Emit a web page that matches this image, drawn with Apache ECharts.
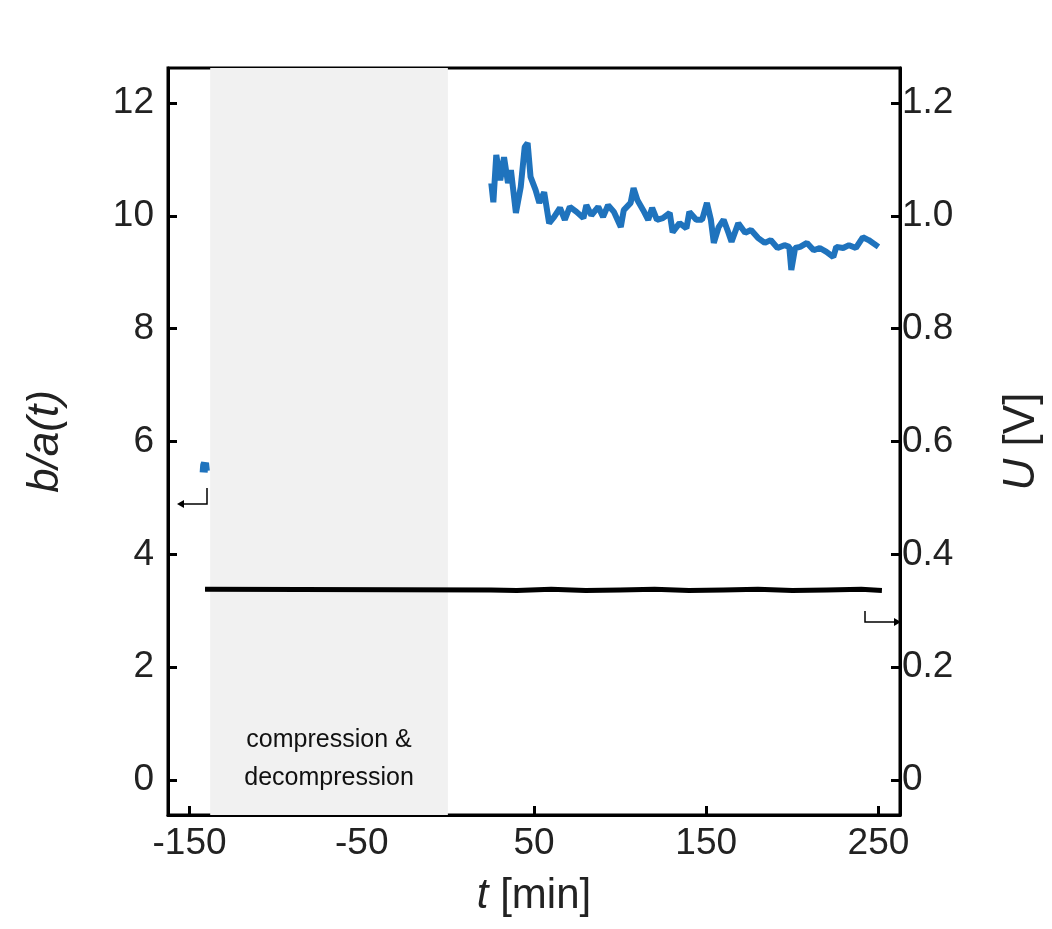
<!DOCTYPE html>
<html><head><meta charset="utf-8">
<script src="https://cdn.jsdelivr.net/npm/echarts@6/dist/echarts.min.js"></script>
<style>html,body{margin:0;background:#fff}#c{width:1052px;height:929px}</style>
</head><body><div id="c"></div>
<script>
// b/a(t) readings, left axis
const ratioEarly = [[-141.8, 5.45], [-141.5, 5.58], [-141, 5.62], [-140.2, 5.6], [-140.5, 5.48]];
const ratioLate = [[25.2,10.58],[26.4,10.24],[28.1,11.08],[30.4,10.63],[32.6,11.04],[34.9,10.58],[36.6,10.81],[39.5,10.05],[42.3,10.51],[44.6,11.22],[46.3,11.29],[48.0,10.69],[50.9,10.46],[53.1,10.23],[55.9,10.42],[58.8,9.87],[61.7,9.98],[65.1,10.14],[67.9,9.93],[70.8,10.16],[74.7,10.07],[78.7,9.96],[80.4,10.19],[83.3,10.01],[87.3,10.16],[90.1,9.98],[93.0,10.19],[96.4,10.07],[100.4,9.80],[102.1,10.10],[106.1,10.23],[107.8,10.49],[110.0,10.28],[113.4,10.10],[116.3,9.93],[118.6,10.14],[121.4,9.93],[124.8,9.96],[128.8,10.05],[130.5,9.71],[134.5,9.87],[138.5,9.78],[140.2,10.07],[144.2,9.93],[147.6,9.93],[150.4,10.23],[152.7,9.93],[154.4,9.52],[157.2,9.80],[160.1,9.93],[162.9,9.70],[164.7,9.54],[168.6,9.87],[172.6,9.70],[176.0,9.75],[180.0,9.61],[184.0,9.52],[187.4,9.57],[191.4,9.43],[195.4,9.48],[198.2,9.45],[199.4,9.04],[201.6,9.43],[204.5,9.45],[208.5,9.52],[212.4,9.39],[215.9,9.43],[219.8,9.36],[223.8,9.27],[225.5,9.45],[229.5,9.43],[232.9,9.48],[236.9,9.43],[240.9,9.62],[244.3,9.57],[250,9.45]];
// U readings, right axis
const voltage = [[-141,0.338],[25,0.337],[40,0.336],[60,0.338],[80,0.336],[100,0.337],[120,0.338],[140,0.336],[160,0.337],[180,0.338],[200,0.336],[220,0.337],[240,0.338],[252,0.336]];
const xTicks = [-150, -50, 50, 150, 250];
const leftTicks = [0, 2, 4, 6, 8, 10, 12];
const rightTicks = [0, 0.2, 0.4, 0.6, 0.8, 1.0, 1.2];
const shade = [-138, 0];

const font = 'Liberation Sans, Arial, sans-serif';
const txt = '#222';
const chart = echarts.init(document.getElementById('c'));
chart.setOption({
  animation: false,
  grid: {left: 168, right: 137, top: 68, bottom: 114, show: true, borderColor: '#000', borderWidth: 3},
  xAxis: {
    type: 'value', min: -162.5, max: 262.5,
    axisLine: {onZero: false, lineStyle: {color: '#000', width: 3}},
    axisTick: {inside: true, length: 9, lineStyle: {width: 3}, customValues: xTicks},
    axisLabel: {customValues: xTicks, color: txt, fontSize: 37, fontFamily: font, margin: 10},
    splitLine: {show: false},
    name: '{i|t} [min]', nameLocation: 'middle', nameGap: 60,
    nameTextStyle: {fontSize: 42, fontFamily: font, color: txt,
      rich: {i: {fontSize: 42, fontStyle: 'italic', fontFamily: font, color: txt}}}
  },
  yAxis: [{
    type: 'value', min: -0.62, max: 12.62,
    axisLine: {show: true, onZero: false, lineStyle: {color: '#000', width: 3}},
    axisTick: {inside: true, length: 9, lineStyle: {width: 3}, customValues: leftTicks},
    axisLabel: {customValues: leftTicks, color: txt, fontSize: 37, fontFamily: font, margin: 14},
    splitLine: {show: false},
    name: 'b/a(t)', nameLocation: 'middle', nameGap: 100,
    nameTextStyle: {fontSize: 44, fontStyle: 'italic', fontFamily: font, color: txt}
  }, {
    type: 'value', min: -0.062, max: 1.262, position: 'right',
    axisLine: {show: true, onZero: false, lineStyle: {color: '#000', width: 3}},
    axisTick: {inside: true, length: 9, lineStyle: {width: 3}, customValues: rightTicks},
    axisLabel: {customValues: rightTicks, color: txt, fontSize: 37, fontFamily: font, margin: 2,
      formatter: v => v === 0 ? '0' : v.toFixed(1)},
    splitLine: {show: false},
    name: '{i|U} [V]', nameLocation: 'middle', nameGap: 100, nameRotate: 90,
    nameTextStyle: {fontSize: 44, fontFamily: font, color: txt,
      rich: {i: {fontSize: 44, fontStyle: 'italic', fontFamily: font, color: txt}}}
  }],
  series: [{
    type: 'line', data: [], z: 0,
    markArea: {silent: true, itemStyle: {color: '#f1f1f1', borderWidth: 0},
      label: {show: true, position: 'insideBottom', distance: 18, formatter: 'compression &\ndecompression',
        color: '#111', fontSize: 25, fontFamily: font, lineHeight: 38},
      data: [[{xAxis: shade[0]}, {xAxis: shade[1]}]]}
  }, {
    type: 'line', yAxisIndex: 1, data: voltage, showSymbol: false,
    lineStyle: {color: '#000', width: 5}
  }, {
    type: 'line', data: ratioEarly, showSymbol: false, lineStyle: {color: '#1f73bd', width: 8}
  }, {
    type: 'line', data: ratioLate, showSymbol: false, lineStyle: {color: '#1f73bd', width: 6}
  }],
  graphic: [
    {type: 'polyline', shape: {points: [[207,488],[207,504],[180,504]]}, style: {stroke: '#000', lineWidth: 1.5, fill: null}},
    {type: 'polygon', shape: {points: [[177,504],[184,500],[184,508]]}, style: {fill: '#000'}},
    {type: 'polyline', shape: {points: [[865,611],[865,622],[897,622]]}, style: {stroke: '#000', lineWidth: 1.5, fill: null}},
    {type: 'polygon', shape: {points: [[901,622],[894,618],[894,626]]}, style: {fill: '#000'}}
  ]
});
</script></body></html>
